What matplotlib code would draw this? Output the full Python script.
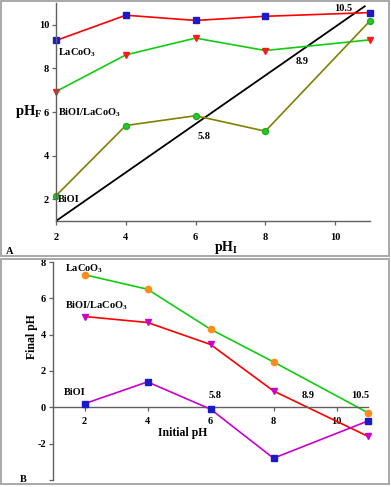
import matplotlib.pyplot as plt
from matplotlib.patches import Rectangle

plt.rcParams["font.family"] = ["Liberation Serif", "DejaVu Serif"]
plt.rcParams["font.weight"] = "bold"
plt.rcParams["mathtext.fontset"] = "custom"
plt.rcParams["mathtext.rm"] = "Liberation Serif:bold"
plt.rcParams["mathtext.bf"] = "Liberation Serif:bold"
plt.rcParams["mathtext.it"] = "Liberation Serif:bold"

# panel A: final pH vs initial pH
ph_init = [2, 4, 6, 8, 11]
a_lacoo3 = [9.28, 10.44, 10.2, 10.39, 10.56]
a_composite = [6.94, 8.62, 9.39, 8.82, 9.31]
a_bioi = [2.16, 5.38, 5.83, 5.12, 10.18]
a_ref_x = [2, 10.85]
a_ref_y = [1, 10.85]

# panel B: final pH (shifted) vs initial pH
b_lacoo3 = [7.3, 6.5, 4.3, 2.5, -0.3]
b_composite = [5.0, 4.67, 3.46, 0.9, -1.6]
b_bioi = [0.2, 1.4, -0.1, -2.8, -0.75]

pzc_labels = ["5.8", "8.9", "10.5"]

W, H = 391, 487
fig = plt.figure(figsize=(W / 100, H / 100), dpi=100)


def fx(px):
    return px / W


def fy(py):
    return 1 - py / H


# panel frames
for y0, y1 in [(1, 255.5), (258.5, 484)]:
    fig.patches.append(Rectangle((fx(1), fy(y1)), fx(388), (y1 - y0) / H,
                                 transform=fig.transFigure, fill=False,
                                 edgecolor="#a8a8a8", lw=1.4))

spine_c = "#606060"
tick_kw = dict(labelsize=7.5, length=3, width=0.9, color=spine_c, direction="out")

# ---- panel A ----
axA = fig.add_axes([fx(56), fy(221), fx(370) - fx(56), (221 - 3) / H])
axA.plot(a_ref_x, a_ref_y, color="black", lw=1.3)
axA.plot(ph_init, a_lacoo3, color="#ff0000", lw=1.2, marker="s", ms=4.3,
         mfc="#1a1acc", mec="#1a1acc", clip_on=False)
axA.plot(ph_init, a_composite, color="#11cc11", lw=1.2, marker="v", ms=5,
         mfc="#ff1a1a", mec="#ff1a1a", clip_on=False)
axA.plot(ph_init, a_bioi, color="#808000", lw=1.2, marker="o", ms=4.3,
         mfc="#22cc22", mec="#22aa22", clip_on=False)
axA.set_xlim(2, 11)
axA.set_ylim(1, 11)
axA.set_xticks([2, 4, 6, 8, 10])
axA.set_yticks([2, 4, 6, 8, 10])
axA.tick_params(axis="x", pad=6, **tick_kw)
axA.tick_params(axis="y", pad=2, **tick_kw)
for s in ["top", "right"]:
    axA.spines[s].set_visible(False)
for s in ["left", "bottom"]:
    axA.spines[s].set_color(spine_c)
    axA.spines[s].set_linewidth(1.0)

txt = dict(fontsize=7.5, fontweight="bold", va="center")
axA.text(2.06, 8.73, "LaCoO$_3$", **txt)
axA.text(2.06, 5.98, "BiOI/LaCoO$_3$", **txt)
axA.text(2.06, 1.99, "BiOI", **txt)
for (x, y), s in zip([(6.23, 4.88), (9.06, 8.32), (10.23, 10.75)], pzc_labels):
    axA.text(x, y, s, ha="center", **txt)
fig.text(fx(29), fy(112), "pH$_\\mathregular{F}$", fontsize=10.5,
         ha="center", va="center")
fig.text(fx(226), fy(247), "pH$_\\mathregular{I}$", fontsize=10,
         ha="center", va="center")
fig.text(fx(6), fy(252), "A", fontsize=7.5, fontweight="bold", va="center")

# ---- panel B ----
axB = fig.add_axes([fx(53), fy(480), fx(368) - fx(53), (480 - 262) / H])
axB.plot(ph_init, b_lacoo3, color="#11cc11", lw=1.2, marker="o", ms=4.5,
         mfc="#ff8c1a", mec="#ff8c1a", clip_on=False)
axB.plot(ph_init, b_composite, color="#ff0000", lw=1.2, marker="v", ms=5,
         mfc="#cc00cc", mec="#cc00cc", clip_on=False)
axB.plot(ph_init, b_bioi, color="#cc00cc", lw=1.2, marker="s", ms=4.3,
         mfc="#1a1acc", mec="#1a1acc", clip_on=False, zorder=3)
axB.set_xlim(1, 11)
axB.set_ylim(-4, 8)
axB.set_xticks([2, 4, 6, 8, 10])
axB.set_yticks([-4, -2, 0, 2, 4, 6, 8])
axB.set_yticklabels(["", "-2", "0", "2", "4", "6", "8"])
axB.tick_params(axis="x", pad=4, **tick_kw)
axB.tick_params(axis="y", pad=2, **tick_kw)
axB.spines["bottom"].set_position(("data", 0))
for s in ["top", "right"]:
    axB.spines[s].set_visible(False)
for s in ["left", "bottom"]:
    axB.spines[s].set_color(spine_c)
    axB.spines[s].set_linewidth(1.0)

axB.text(1.38, 7.62, "LaCoO$_3$", **txt)
axB.text(1.38, 5.6, "BiOI/LaCoO$_3$", **txt)
axB.text(1.35, 0.82, "BiOI", **txt)
for x, s in zip([6.14, 9.1, 10.75], pzc_labels):
    axB.text(x, 0.66, s, ha="center", **txt)
fig.text(fx(183), fy(433), "Initial pH", fontsize=8.5, fontweight="bold",
         ha="center", va="center")
fig.text(fx(32), fy(337), "Final pH", fontsize=8.5, fontweight="bold",
         ha="center", va="center", rotation=90)
fig.text(fx(20), fy(479), "B", fontsize=7.5, fontweight="bold", va="center")

fig.savefig("out.png", dpi=100)
